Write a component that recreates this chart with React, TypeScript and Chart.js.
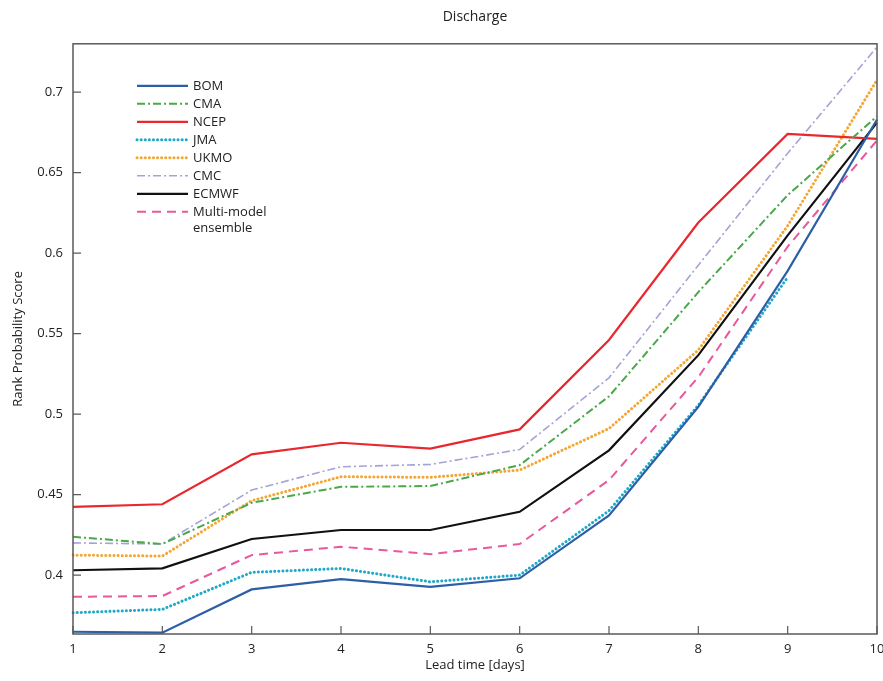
import { useEffect, useRef } from 'react';
import { Chart, registerables } from 'chart.js';

Chart.register(...registerables);

const leadDays = ['1', '2', '3', '4', '5', '6', '7', '8', '9', '10'];
const yTickValues = [0.4, 0.45, 0.5, 0.55, 0.6, 0.65, 0.7];
const yMin = 0.3634;
const yMax = 0.73;

const bom = [0.3648, 0.3642, 0.3911, 0.3975, 0.3927, 0.398, 0.437, 0.5045, 0.589, 0.683];
const cma = [0.4238, 0.4193, 0.4449, 0.4548, 0.4553, 0.4683, 0.511, 0.5758, 0.636, 0.685];
const ncep = [0.4424, 0.444, 0.475, 0.4822, 0.4785, 0.4905, 0.546, 0.619, 0.674, 0.671];
const jma = [0.3766, 0.3787, 0.4017, 0.4041, 0.3958, 0.4, 0.44, 0.5055, 0.585, null];
const ukmo = [0.4124, 0.4118, 0.4462, 0.4611, 0.4607, 0.4652, 0.491, 0.5398, 0.617, 0.7075];
const cmc = [0.42, 0.4193, 0.4528, 0.4673, 0.4687, 0.478, 0.5225, 0.5925, 0.662, 0.728];
const ecmwf = [0.403, 0.4042, 0.4224, 0.428, 0.428, 0.4393, 0.4775, 0.5366, 0.611, 0.681];
const multiModel = [0.3865, 0.387, 0.4124, 0.4176, 0.413, 0.4193, 0.459, 0.523, 0.604, 0.67];

const FONT = '"Open Sans", "DejaVu Sans", sans-serif';

const seriesDefs = [
  { label: 'BOM', data: bom, color: '#2d5fa8', width: 2.2, dash: [] as number[], cap: 'butt' },
  { label: 'CMA', data: cma, color: '#4aa84a', width: 2, dash: [8, 3, 2, 3], cap: 'butt' },
  { label: 'NCEP', data: ncep, color: '#e8282e', width: 2.2, dash: [] as number[], cap: 'butt' },
  { label: 'JMA', data: jma, color: '#1fa9c9', width: 3, dash: [0.1, 4], cap: 'round' },
  { label: 'UKMO', data: ukmo, color: '#f4a634', width: 3, dash: [0.1, 4], cap: 'round' },
  { label: 'CMC', data: cmc, color: '#a3a3d6', width: 1.6, dash: [8, 3, 2, 3], cap: 'butt' },
  { label: 'ECMWF', data: ecmwf, color: '#111111', width: 2.2, dash: [] as number[], cap: 'butt' },
  { label: 'Multi-model\nensemble', data: multiModel, color: '#e9589b', width: 2, dash: [9, 6], cap: 'butt' },
];

export default function App() {
  const ref = useRef<HTMLCanvasElement>(null);

  useEffect(() => {
    const canvas = ref.current;
    if (!canvas) return;

    const framePlugin = {
      id: 'frameAndLegend',
      afterDraw(chart: any) {
        const { ctx, chartArea } = chart;
        const xs = chart.scales.x;
        const ys = chart.scales.y;
        ctx.save();
        ctx.strokeStyle = '#5a5a5a';
        ctx.lineWidth = 1.5;
        ctx.setLineDash([]);
        ctx.strokeRect(chartArea.left, chartArea.top, chartArea.right - chartArea.left, chartArea.bottom - chartArea.top);
        ctx.lineWidth = 1.2;
        ctx.beginPath();
        yTickValues.forEach((v) => {
          const y = ys.getPixelForValue(v);
          ctx.moveTo(chartArea.left, y);
          ctx.lineTo(chartArea.left + 8, y);
        });
        leadDays.forEach((_, i) => {
          const x = xs.getPixelForValue(i);
          ctx.moveTo(x, chartArea.bottom);
          ctx.lineTo(x, chartArea.bottom - 8);
        });
        ctx.stroke();

        // legend
        const lx0 = chartArea.left + 64;
        const lx1 = chartArea.left + 115;
        const tx = chartArea.left + 120;
        let ly = chartArea.top + 42;
        ctx.font = `13px ${FONT}`;
        ctx.textBaseline = 'middle';
        ctx.textAlign = 'left';
        seriesDefs.forEach((s) => {
          ctx.strokeStyle = s.color;
          ctx.lineWidth = s.width;
          ctx.lineCap = s.cap;
          ctx.setLineDash(s.dash);
          ctx.beginPath();
          ctx.moveTo(lx0, ly);
          ctx.lineTo(lx1, ly);
          ctx.stroke();
          ctx.fillStyle = '#222';
          const lines = s.label.split('\n');
          lines.forEach((t, k) => {
            ctx.fillText(t, tx, ly + k * 16);
          });
          ly += 18;
        });
        ctx.restore();
      },
    };

    const chart = new Chart(canvas, {
      type: 'line',
      data: {
        labels: leadDays,
        datasets: seriesDefs.map((s) => ({
          label: s.label,
          data: s.data,
          borderColor: s.color,
          backgroundColor: s.color,
          borderWidth: s.width,
          borderDash: s.dash,
          borderCapStyle: s.cap as any,
          pointRadius: 0,
          pointHoverRadius: 0,
          tension: 0,
          fill: false,
          spanGaps: false,
        })),
      },
      options: {
        responsive: false,
        animation: false,
        events: [],
        layout: { padding: { left: 0, right: 6, top: 0, bottom: 0 } },
        plugins: {
          legend: { display: false },
          tooltip: { enabled: false },
          title: {
            display: true,
            text: 'Discharge',
            fullSize: false,
            color: '#222',
            font: { family: FONT, size: 14, weight: 'normal' },
            padding: { top: 9, bottom: 18 },
          },
        },
        scales: {
          x: {
            type: 'category',
            offset: false,
            grid: { display: false, drawTicks: false },
            border: { display: false },
            ticks: {
              color: '#222',
              font: { family: FONT, size: 13 },
              padding: 7,
              maxRotation: 0,
              autoSkip: false,
            },
            title: {
              display: true,
              text: 'Lead time [days]',
              color: '#222',
              font: { family: FONT, size: 13 },
              padding: { top: 0, bottom: 8 },
            },
            afterFit: (s: any) => {
              s.height = 47;
              s.paddingRight = 0;
              s.paddingLeft = 0;
            },
          },
          y: {
            type: 'linear',
            min: yMin,
            max: yMax,
            grid: { display: false, drawTicks: false },
            border: { display: false },
            afterBuildTicks: (s: any) => {
              s.ticks = yTickValues.map((v) => ({ value: v }));
            },
            ticks: {
              color: '#222',
              font: { family: FONT, size: 13 },
              padding: 10,
              callback: (v: any) => String(Number(v)),
            },
            title: {
              display: true,
              text: 'Rank Probability Score',
              color: '#222',
              font: { family: FONT, size: 13 },
              padding: { top: 10, bottom: 0 },
            },
            afterFit: (s: any) => {
              s.width = 73;
              s.paddingTop = 0;
              s.paddingBottom = 0;
            },
          },
        },
      },
      plugins: [framePlugin],
    });

    return () => chart.destroy();
  }, []);

  return (
    <div style={{ position: 'absolute', left: 0, top: 0, width: 883, height: 681, background: '#fff' }}>
      <canvas ref={ref} width={883} height={681} style={{ display: 'block' }} />
    </div>
  );
}
